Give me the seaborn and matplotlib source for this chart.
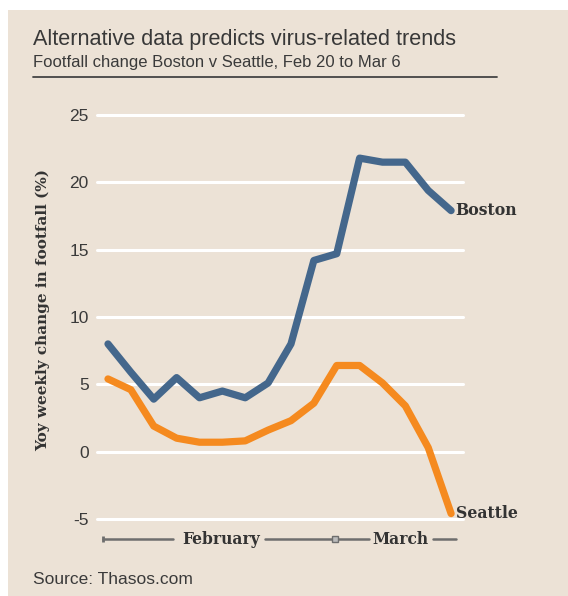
import matplotlib
matplotlib.use("Agg")
import matplotlib.pyplot as plt
from matplotlib.patches import Rectangle
from matplotlib.lines import Line2D
import seaborn as sns
import pandas as pd

# ---- data ----
dates = ["Feb 20", "Feb 21", "Feb 22", "Feb 23", "Feb 24", "Feb 25", "Feb 26", "Feb 27",
         "Feb 28", "Feb 29", "Mar 1", "Mar 2", "Mar 3", "Mar 4", "Mar 5", "Mar 6"]
boston = [8.0, 5.9, 3.9, 5.5, 4.0, 4.5, 4.0, 5.1, 8.0, 14.2, 14.7, 21.8, 21.5, 21.5, 19.4, 17.9]
seattle = [5.4, 4.6, 1.9, 1.0, 0.7, 0.7, 0.8, 1.6, 2.3, 3.6, 6.4, 6.4, 5.1, 3.4, 0.3, -4.6]
yticks = [-5, 0, 5, 10, 15, 20, 25]
series_names = ["Boston", "Seattle"]
months = ["February", "March"]

df = pd.DataFrame({
    "idx": list(range(len(dates))) * 2,
    "value": boston + seattle,
    "city": ["Boston"] * len(dates) + ["Seattle"] * len(dates),
})

BG = "#ECE2D6"
BLUE = "#44678C"
ORANGE = "#F58A1F"
W, H = 568, 596

sns.set_theme(style="white")
plt.rcParams["font.family"] = ["Liberation Sans", "DejaVu Sans"]

fig = plt.figure(figsize=(W / 100, H / 100), dpi=100, facecolor="white")
fig.patches.append(Rectangle((8 / W, 0), 1, (H - 10) / H, transform=fig.transFigure,
                             facecolor=BG, edgecolor="none", zorder=-10))

def fx(px):
    return px / W

def fy(py):
    return 1 - py / H

top_px, bot_px = 108.3, 525.7
ax = fig.add_axes([fx(97), fy(bot_px), (463 - 97) / W, (bot_px - top_px) / H])
ax.set_facecolor(BG)
ax.patch.set_alpha(0)

for t in yticks:
    ax.axhline(t, color="white", lw=2.2, zorder=0)

sns.lineplot(data=df, x="idx", y="value", hue="city", palette=[BLUE, ORANGE],
             linewidth=5.2, ax=ax, legend=False, solid_capstyle="round",
             solid_joinstyle="round")
for ln in ax.lines:
    ln.set_clip_on(False)

ax.set_xlim(-0.48, 15.52)
ax.set_ylim(-5.5, 25.5)
ax.set_yticks(yticks)
ax.set_yticklabels([str(t) for t in yticks], fontsize=12.5, color="#3a3a3a")
ax.tick_params(axis="y", length=0, pad=6)
ax.set_xticks([])
ax.set_xlabel("")
ax.set_ylabel("Yoy weekly change in footfall (%)", family=["DejaVu Serif"],
              fontweight="bold", fontsize=11, color="#333333")
ax.yaxis.set_label_coords(-0.128, 0.517)
for s in ax.spines.values():
    s.set_visible(False)

# end labels
for name, vals in zip(series_names, [boston, seattle]):
    ax.text(len(dates) - 1 + 0.2, vals[-1], name, family=["DejaVu Serif"],
            fontweight="bold", fontsize=11.3, color="#333333", va="center", ha="left",
            clip_on=False)

# titles
fig.text(fx(33), fy(45), "Alternative data predicts virus-related trends",
         fontsize=15.6, color="#383838", ha="left", va="baseline")
fig.text(fx(33), fy(67), "Footfall change Boston v Seattle, Feb 20 to Mar 6",
         fontsize=12, color="#3a3a3a", ha="left", va="baseline")
fig.add_artist(Line2D([fx(33), fx(497)], [fy(77), fy(77)], color="#444444", lw=1.3))

# month bar
yb = fy(539)
gray = "#6e6e6e"
segs = [(103, 173), (265, 335), (335, 369), (433, 456)]
for a, b in segs:
    fig.add_artist(Line2D([fx(a), fx(b)], [yb, yb], color=gray, lw=1.8))
fig.add_artist(Line2D([fx(103)], [yb], marker="|", markersize=5, color=gray, mew=2))
fig.add_artist(Line2D([fx(335)], [yb], marker="s", markersize=4, markerfacecolor="#bbbbbb",
                      markeredgecolor=gray, mew=1))
fig.text(fx(221), yb, months[0], family=["DejaVu Serif"], fontweight="bold", fontsize=11.2,
         color="#333333", ha="center", va="center")
fig.text(fx(400), yb, months[1], family=["DejaVu Serif"], fontweight="bold", fontsize=11.2,
         color="#333333", ha="center", va="center")

fig.text(fx(33), fy(584), "Source: Thasos.com", fontsize=12.5, color="#3a3a3a",
         ha="left", va="baseline")

fig.savefig("out.png", dpi=100, facecolor="white")
